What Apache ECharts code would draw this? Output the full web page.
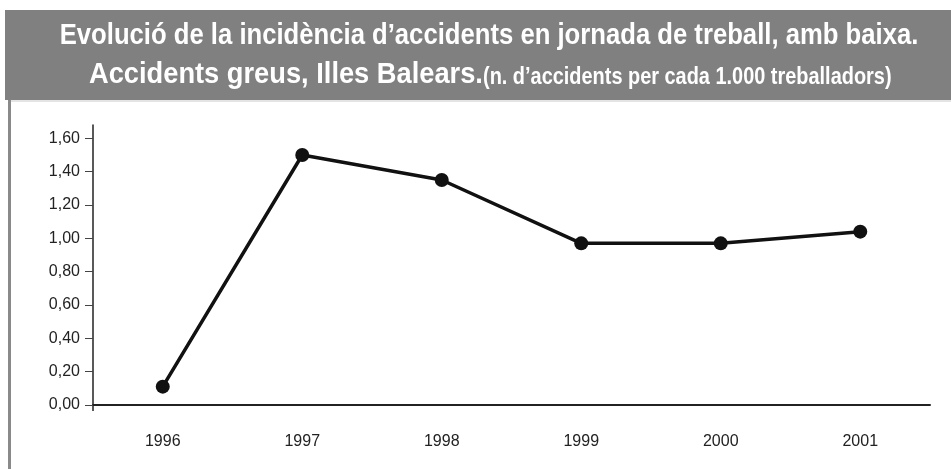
<!DOCTYPE html>
<html>
<head>
<meta charset="utf-8">
<script src="https://cdn.jsdelivr.net/npm/echarts@6/dist/echarts.min.js"></script>
<style>
  html, body { margin: 0; padding: 0; background: #fff; }
  #lineChart { width: 951px; height: 469px; }
</style>
</head>
<body>
<div id="lineChart"></div>
<script>
// dades del gràfic
const years = ['1996', '1997', '1998', '1999', '2000', '2001'];
const incidencia = [0.11, 1.50, 1.35, 0.97, 0.97, 1.04];
const yTicks = [0, 0.2, 0.4, 0.6, 0.8, 1.0, 1.2, 1.4, 1.6];

const lineChart = echarts.init(document.getElementById('lineChart'));

const titleFont = '"Liberation Sans", Arial, sans-serif';
const labelFont = '"Liberation Sans", Arial, sans-serif';

const option = {
  animation: false,
  backgroundColor: '#fff',
  graphic: [
    { type: 'rect', shape: { x: 5, y: 10, width: 946, height: 90 }, style: { fill: '#808080' } },
    { type: 'rect', shape: { x: 8, y: 100, width: 3, height: 369 }, style: { fill: '#8a8a8a' } },
    { type: 'rect', shape: { x: 11, y: 100, width: 940, height: 2 }, style: { fill: '#e4e4e4' } },
    {
      type: 'text', x: 489, y: 36, scaleX: 0.885, z: 10,
      style: {
        x: 0, y: 0, textAlign: 'center', textVerticalAlign: 'middle',
        text: 'Evolució de la incidència d’accidents en jornada de treball, amb baixa.',
        fill: '#fff', font: 'bold 29px ' + titleFont
      }
    },
    {
      type: 'text', x: 89, y: 75, scaleX: 0.94, z: 10,
      style: {
        x: 0, y: 0, textAlign: 'left', textVerticalAlign: 'middle',
        text: 'Accidents greus, Illes Balears.',
        fill: '#fff', font: 'bold 29px ' + titleFont
      }
    },
    {
      type: 'text', x: 483, y: 77, scaleX: 0.83, z: 10,
      style: {
        x: 0, y: 0, textAlign: 'left', textVerticalAlign: 'middle',
        text: '(n. d’accidents per cada 1.000 treballadors)',
        fill: '#fff', font: 'bold 24px ' + titleFont
      }
    },
    // prolongació de l'eix Y per sota de l'eix X
    { type: 'line', shape: { x1: 93, y1: 405, x2: 93, y2: 411 }, style: { stroke: '#222', lineWidth: 1.5 } }
  ],
  grid: { left: 93, right: 21, top: 125, bottom: 64 },
  xAxis: {
    type: 'category',
    data: years,
    boundaryGap: true,
    axisLine: { lineStyle: { color: '#222', width: 2 } },
    axisTick: { inside: true, length: 6, lineStyle: { color: '#333', width: 1 } },
    axisLabel: { margin: 29, fontSize: 16, color: '#222', fontFamily: labelFont }
  },
  yAxis: {
    type: 'value',
    min: 0,
    max: 1.68,
    splitLine: { show: false },
    axisLine: { show: true, lineStyle: { color: '#222', width: 1.5 } },
    axisTick: { show: true, length: 8, customValues: yTicks, lineStyle: { color: '#444', width: 1 } },
    axisLabel: {
      margin: 13,
      fontSize: 16,
      color: '#222',
      fontFamily: labelFont,
      customValues: yTicks,
      formatter: function (v) { return v.toFixed(2).replace('.', ','); }
    }
  },
  series: [
    {
      type: 'line',
      data: incidencia,
      symbol: 'circle',
      symbolSize: 14,
      itemStyle: { color: '#111' },
      lineStyle: { color: '#111', width: 3.5 }
    }
  ]
};
lineChart.setOption(option);
</script>
</body>
</html>
